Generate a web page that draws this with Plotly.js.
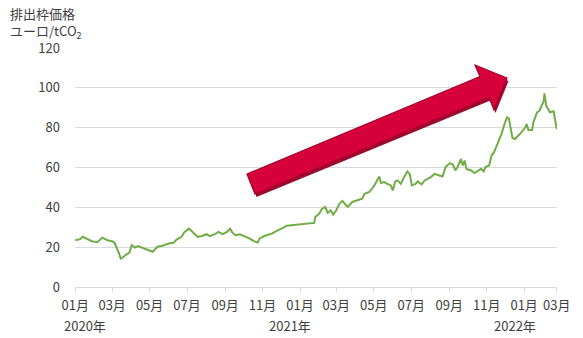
<!DOCTYPE html>
<html>
<head>
<meta charset="utf-8">
<script src="https://cdn.plot.ly/plotly-3.0.1.min.js"></script>
<style>html,body{margin:0;padding:0;background:#fff;}#chart{width:583px;height:338px;}</style>
</head>
<body>
<div id="chart"></div>
<script>
// EU排出枠価格 (ユーロ/tCO2)
const dates = [
'2020-01-01','2020-01-09','2020-01-13','2020-01-20','2020-01-28','2020-02-06','2020-02-14','2020-02-22',
'2020-03-01','2020-03-05','2020-03-08','2020-03-12','2020-03-15','2020-03-18','2020-03-24','2020-03-29',
'2020-04-02','2020-04-07','2020-04-12','2020-04-18','2020-04-28','2020-05-06','2020-05-14','2020-05-22',
'2020-06-01','2020-06-09','2020-06-14','2020-06-22','2020-06-27','2020-07-04','2020-07-08','2020-07-13',
'2020-07-18','2020-07-24','2020-08-02','2020-08-07','2020-08-15','2020-08-21','2020-08-28','2020-09-04',
'2020-09-09','2020-09-13','2020-09-18','2020-09-25','2020-10-03','2020-10-11','2020-10-18','2020-10-24',
'2020-10-27','2020-11-03','2020-11-10','2020-11-16','2020-11-21','2020-11-29','2020-12-05','2020-12-10',
'2021-01-24','2021-01-26','2021-02-01','2021-02-06','2021-02-11','2021-02-15','2021-02-20','2021-02-24',
'2021-03-01','2021-03-06','2021-03-11','2021-03-16','2021-03-20','2021-03-27','2021-04-05','2021-04-12',
'2021-04-16','2021-04-24','2021-05-02','2021-05-07','2021-05-10','2021-05-13','2021-05-18','2021-05-23',
'2021-05-29','2021-06-01','2021-06-05','2021-06-09','2021-06-14','2021-06-20','2021-06-25','2021-06-29',
'2021-07-02','2021-07-08','2021-07-12','2021-07-18','2021-07-23','2021-08-02','2021-08-08','2021-08-16',
'2021-08-21','2021-08-26','2021-09-02','2021-09-07','2021-09-11','2021-09-15','2021-09-20','2021-09-23',
'2021-09-26','2021-09-29','2021-10-07','2021-10-12','2021-10-18','2021-10-23','2021-10-27','2021-10-30',
'2021-11-05','2021-11-09','2021-11-13','2021-11-20','2021-11-25','2021-12-01','2021-12-04','2021-12-07',
'2021-12-10','2021-12-13','2021-12-17','2021-12-25','2022-01-03','2022-01-05','2022-01-08','2022-01-14',
'2022-01-16','2022-01-22','2022-01-26','2022-01-30','2022-02-02','2022-02-03','2022-02-06','2022-02-12',
'2022-02-18','2022-02-23'
];
const prices = [
23.5,24,25.2,24.2,23,22.5,24.8,23.5,
23,22.2,20.2,17,14.3,14.8,16.3,17.3,
21,19.8,20.5,19.7,18.5,17.7,20.2,20.7,
21.8,22.2,23.8,25.2,27.7,29.3,28.2,26.5,
25.2,25.5,26.5,25.5,26.5,27.7,26.5,27.7,
29.3,27.2,26,26.5,25.5,24.3,23,22.3,
24.3,25.5,26.2,26.8,27.7,28.8,29.8,30.8,
32.2,35.2,36.8,39.3,40.2,37.2,38.5,36.3,
38.5,41.8,43.2,41.3,40.2,42.7,43.5,44.3,
46.8,47.7,51,53.5,55.5,52.2,52.7,51.8,
51,48.5,53,53.5,51.8,55.5,58,56.5,
51,51.8,53,51.5,53.5,55.2,56.8,56,
55.5,60.2,62.2,61.5,58.5,60.5,64.3,61,
63.5,59.3,58.5,57.2,58.5,59.3,58,60.2,
61,66,67.7,72.7,76.8,82.7,85.2,84.8,
80.2,74.8,74.3,76.8,80.2,81.8,78.8,78.8,
82.7,87.7,88.5,91.8,93.5,97.2,91,87.7,
88.2,79.3
];
const tickVals = ['2020-01-01','2020-03-01','2020-05-01','2020-07-01','2020-09-01','2020-11-01',
'2021-01-01','2021-03-01','2021-05-01','2021-07-01','2021-09-01','2021-11-01','2022-01-01','2022-02-23'];
const tickText = ['01月','03月','05月','07月','09月','11月','01月','03月','05月','07月','09月','11月','01月','03月'];
const yearLabels = ['2020年','2021年','2022年'];
const yTitleLines = ['排出枠価格','ユーロ/tCO<sub>2</sub>'];

// layout geometry (pixels)
const W = 583, H = 338, L = 75, R = 557, T = 48, B = 287;
const px = x => (x - L) / (R - L);
const py = y => (B - y) / (B - T);
const FONT = '"Noto Sans CJK JP", "Noto Sans", sans-serif';
const TXT = '#404040';

function poly(pts, dx, dy) {
  return pts.map((p, i) => (i ? 'L' : 'M') + px(p[0] + dx).toFixed(4) + ',' + py(p[1] + dy).toFixed(4)).join(' ') + ' Z';
}
const arrowPts = [[247,174],[480,76.5],[475,65],[507,78],[494,110],[489,97.5],[255,194]];

const annotations = [
  {text: yTitleLines[0], xref:'paper', yref:'paper', x: px(8), y: py(14), xanchor:'left', yanchor:'middle', showarrow:false, font:{family:FONT,size:13,color:TXT}},
  {text: yTitleLines[1], xref:'paper', yref:'paper', x: px(8), y: py(31), xanchor:'left', yanchor:'middle', showarrow:false, font:{family:FONT,size:13,color:TXT}},
  {text: yearLabels[0], xref:'paper', yref:'paper', x: px(62), y: py(325), xanchor:'left', yanchor:'middle', showarrow:false, font:{family:FONT,size:13,color:TXT}},
  {text: yearLabels[1], xref:'paper', yref:'paper', x: px(313), y: py(325), xanchor:'right', yanchor:'middle', showarrow:false, font:{family:FONT,size:13,color:TXT}},
  {text: yearLabels[2], xref:'paper', yref:'paper', x: px(538), y: py(325), xanchor:'right', yanchor:'middle', showarrow:false, font:{family:FONT,size:13,color:TXT}}
];

const shapes = [
  {type:'path', xref:'paper', yref:'paper', path: poly(arrowPts, 1.5, 3), fillcolor:'#9c0a30', line:{width:0}, layer:'above'},
  {type:'path', xref:'paper', yref:'paper', path: poly(arrowPts, 0, 0), fillcolor:'#d6003b', line:{color:'#a3002c', width:1.2}, layer:'above'}
];

const trace = {
  x: dates, y: prices, type:'scatter', mode:'lines',
  line:{color:'#70ad47', width:2}, hoverinfo:'skip'
};

const layout = {
  width: W, height: H,
  margin:{l:L, r:W-R, t:T, b:H-B, pad:0},
  paper_bgcolor:'#fff', plot_bgcolor:'#fff',
  showlegend:false,
  font:{family:FONT, size:13, color:TXT},
  xaxis:{
    type:'date', range:['2019-12-31 12:00','2022-02-23 12:00'],
    tickmode:'array', tickvals:tickVals, ticktext:tickText,
    showgrid:false, zeroline:false,
    showline:true, linecolor:'#d9d9d9', linewidth:1,
    ticks:'outside', ticklen:4, tickcolor:'#d9d9d9',
    tickfont:{family:FONT,size:13,color:TXT}, ticklabelstandoff:2
  },
  yaxis:{
    range:[0,120], tickvals:[0,20,40,60,80,100,120],
    showgrid:true, gridcolor:'#d9d9d9', gridwidth:1,
    zeroline:false, showline:false, ticks:'',
    tickfont:{family:FONT,size:13,color:TXT}, ticklabelstandoff:14
  },
  annotations: annotations,
  shapes: shapes
};

Plotly.newPlot('chart', [trace], layout, {displayModeBar:false, staticPlot:true});
</script>
</body>
</html>
